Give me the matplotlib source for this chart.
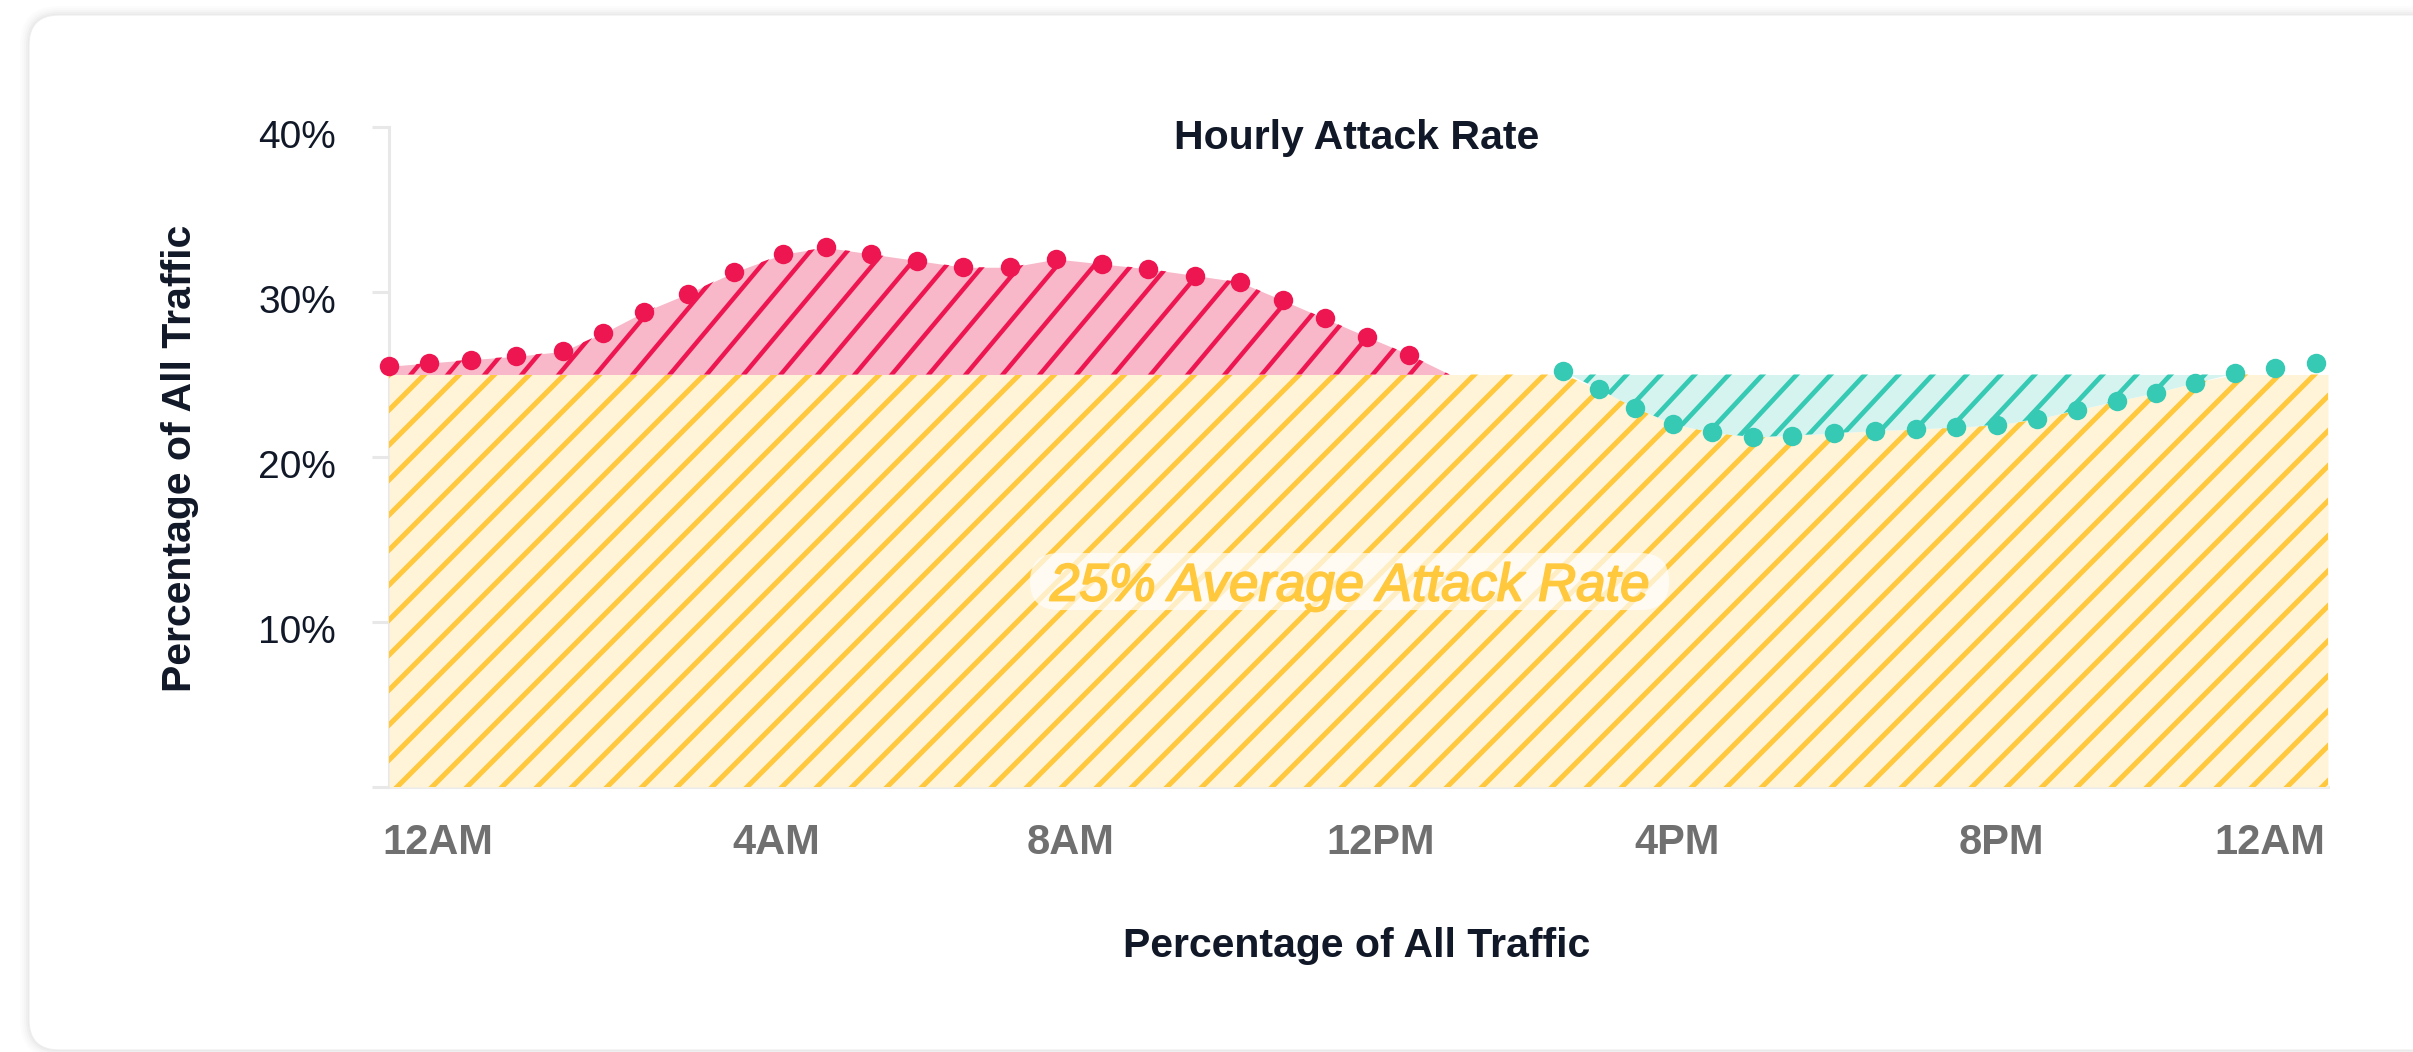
import numpy as np
import matplotlib
matplotlib.use("Agg")
import matplotlib.pyplot as plt
import matplotlib.patheffects as pe
from matplotlib.patches import FancyBboxPatch, PathPatch
from matplotlib.path import Path
from matplotlib.collections import LineCollection
from matplotlib.transforms import IdentityTransform, ScaledTranslation

plt.rcParams["font.family"] = ["Liberation Sans", "DejaVu Sans"]

# ---- data -------------------------------------------------------------
# hours since midnight and attack rate (% of all traffic)
above_hours = [0.00, 0.50, 1.01, 1.57, 2.15, 2.65, 3.16, 3.70, 4.27, 4.88,
               5.41, 5.97, 6.54, 7.11, 7.69, 8.26, 8.83, 9.40, 9.98, 10.53,
               11.06, 11.58, 12.10, 12.63]
above_rate = [25.5, 25.7, 25.9, 26.1, 26.4, 27.5, 28.8, 29.9, 31.2, 32.3,
              32.7, 32.3, 31.9, 31.5, 31.5, 32.0, 31.7, 31.4, 31.0, 30.6,
              29.5, 28.4, 27.3, 26.2]
above_end_hour = 13.13

below_hours = [14.53, 14.98, 15.42, 15.89, 16.38, 16.88, 17.37, 17.88, 18.39,
               18.90, 19.39, 19.90, 20.40, 20.89, 21.39, 21.87, 22.35, 22.85,
               23.34, 23.85]
below_rate = [25.2, 24.1, 23.0, 22.0, 21.5, 21.2, 21.3, 21.45, 21.6, 21.7,
              21.8, 21.95, 22.3, 22.85, 23.4, 23.9, 24.5, 25.1, 25.4, 25.7]

average_rate = 25
day_hours = 24

x_tick_pos = [0.61, 4.79, 8.43, 12.28, 15.94, 19.96, 23.28]
x_tick_labels = ["12AM", "4AM", "8AM", "12PM", "4PM", "8PM", "12AM"]
y_ticks = [0, 10, 20, 30, 40]
y_tick_labels = ["", "10%", "20%", "30%", "40%"]

# ---- colours -----------------------------------------------------------
YELLOW_LINE = "#ffc83d"
YELLOW_FILL = "#fff3d8"
RED = "#ee1651"
RED_FILL = "#f8b8c9"
TEAL = "#36c9b4"
TEAL_FILL = "#d6f4ef"
INK = "#111827"
GRID = "#e8e8e8"

W, H = 2413, 1052
fig = plt.figure(figsize=(W / 100, H / 100), dpi=100)
fig.patch.set_facecolor("white")

# card with a soft shadow
for d, a in [(9, 0.010), (7, 0.012), (5, 0.016), (3, 0.022), (1, 0.03)]:
    fig.add_artist(FancyBboxPatch((29 - d, 2 - d), 2450 + 2 * d, 1035 + 2 * d,
                                  boxstyle=f"round,pad=0,rounding_size={30 + d}",
                                  transform=IdentityTransform(), facecolor="black",
                                  edgecolor="none", alpha=a, zorder=-20))
fig.add_artist(FancyBboxPatch((29, 2), 2450, 1035,
                              boxstyle="round,pad=0,rounding_size=30",
                              transform=IdentityTransform(), facecolor="white",
                              edgecolor="#eeeeee", lw=0.8, zorder=-19))

ax = fig.add_axes([389 / W, 265 / H, (2328 - 389) / W, 660 / H])
ax.patch.set_alpha(0)
ax.set_xlim(0, day_hours)
ax.set_ylim(0, 40)


def add_hatch(coll, spacing, color, lw, zorder, angle=45.0, phase=0.0):
    """Diagonal stripes (horizontal pitch in pixels) clipped to a filled region."""
    clip = PathPatch(Path.make_compound_path(*coll.get_paths()),
                     transform=ax.transData, facecolor="none", edgecolor="none")
    slope = np.tan(np.radians(angle))
    # each stripe crosses y = 0 at x = x0
    x0s = np.arange(-H / slope - 200 + phase, W + 200, spacing)
    segs = [[(x0, 0), (x0 + H / slope, H)] for x0 in x0s]
    lc = LineCollection(segs, colors=color, linewidths=lw,
                        transform=IdentityTransform(), zorder=zorder,
                        capstyle="butt")
    ax.add_collection(lc, autolim=False)
    lc.set_clip_path(clip)
    return lc


ah = np.array(above_hours)
ar = np.array(above_rate)
bh = np.array(below_hours)
br = np.array(below_rate)

# average band
yx = np.concatenate([[0], bh, [day_hours]])
yy = np.concatenate([[average_rate], np.minimum(br, average_rate), [average_rate]])
yel = ax.fill_between(yx, 0, yy, color=YELLOW_FILL, lw=0, zorder=1)
add_hatch(yel, 35, YELLOW_LINE, 3.6, 2, angle=45, phase=(389 - 265) % 35)

# above-average region
rx = np.concatenate([ah, [above_end_hour]])
ry = np.concatenate([ar, [average_rate]])
red = ax.fill_between(rx, average_rate, ry, color=RED_FILL, lw=0, zorder=3)
add_hatch(red, 37, RED, 3.2, 4, angle=50)

# below-average region
teal = ax.fill_between(bh, br, average_rate, where=br <= average_rate,
                       interpolate=True, color=TEAL_FILL, lw=0, zorder=3)
add_hatch(teal, 34, TEAL, 3.4, 4, angle=47)

ax.plot(ah, ar, "o", ms=14, mew=0, color=RED, zorder=6, clip_on=False)
ax.plot(bh, br, "o", ms=14, mew=0, color=TEAL, zorder=6, clip_on=False)

# axes styling
for s in ("top", "right"):
    ax.spines[s].set_visible(False)
ax.spines["left"].set_color(GRID)
ax.spines["left"].set_linewidth(2.2)
ax.spines["bottom"].set_color("#ebebeb")
ax.spines["bottom"].set_linewidth(2.2)
ax.spines["left"].set_zorder(0.5)
ax.spines["bottom"].set_zorder(0.5)

ax.set_yticks(y_ticks)
ax.set_yticklabels(y_tick_labels)
ax.tick_params(axis="y", length=12, width=2.2, color=GRID, pad=26,
               labelsize=28, labelcolor=INK)
ax.set_xticks(x_tick_pos)
ax.set_xticklabels(x_tick_labels, fontweight="bold")
ax.tick_params(axis="x", length=0, pad=26, labelsize=30, labelcolor="#707070")
for lbl in ax.get_yticklabels():
    lbl.set_transform(lbl.get_transform() +
                      ScaledTranslation(0, -7 / 100, fig.dpi_scale_trans))

# titles
fig.text(1357 / W, 1 - 149 / H, "Hourly Attack Rate", ha="center",
         va="baseline", fontsize=29.5, fontweight="bold", color=INK)
fig.text(1357 / W, 1 - 957 / H, "Percentage of All Traffic", ha="center",
         va="baseline", fontsize=29.5, fontweight="bold", color=INK)
fig.text(191 / W, 1 - 458 / H, "Percentage of All Traffic", ha="center",
         va="baseline", rotation=90, rotation_mode="anchor",
         fontsize=29.5, fontweight="bold", color=INK)

# average label on a translucent pill
label_x, label_y = 11.89, 11.3
txt = ax.text(label_x, label_y, f"{average_rate}% Average Attack Rate",
              ha="center", va="baseline", fontsize=38, style="italic",
              color=YELLOW_LINE, zorder=8,
              path_effects=[pe.withStroke(linewidth=1.3, foreground=YELLOW_LINE)])
fig.canvas.draw()
bb = txt.get_window_extent(fig.canvas.get_renderer())
base_y = ax.transData.transform((label_x, label_y))[1]
pill_h = 57
ax.add_patch(FancyBboxPatch((bb.x0 - 20, base_y - 9.5), bb.width + 40, pill_h,
                            boxstyle=f"round,pad=0,rounding_size={pill_h / 2}",
                            transform=IdentityTransform(), facecolor="white",
                            edgecolor="none", alpha=0.7, zorder=7))

fig.savefig("out.png", dpi=100, facecolor=fig.get_facecolor())
